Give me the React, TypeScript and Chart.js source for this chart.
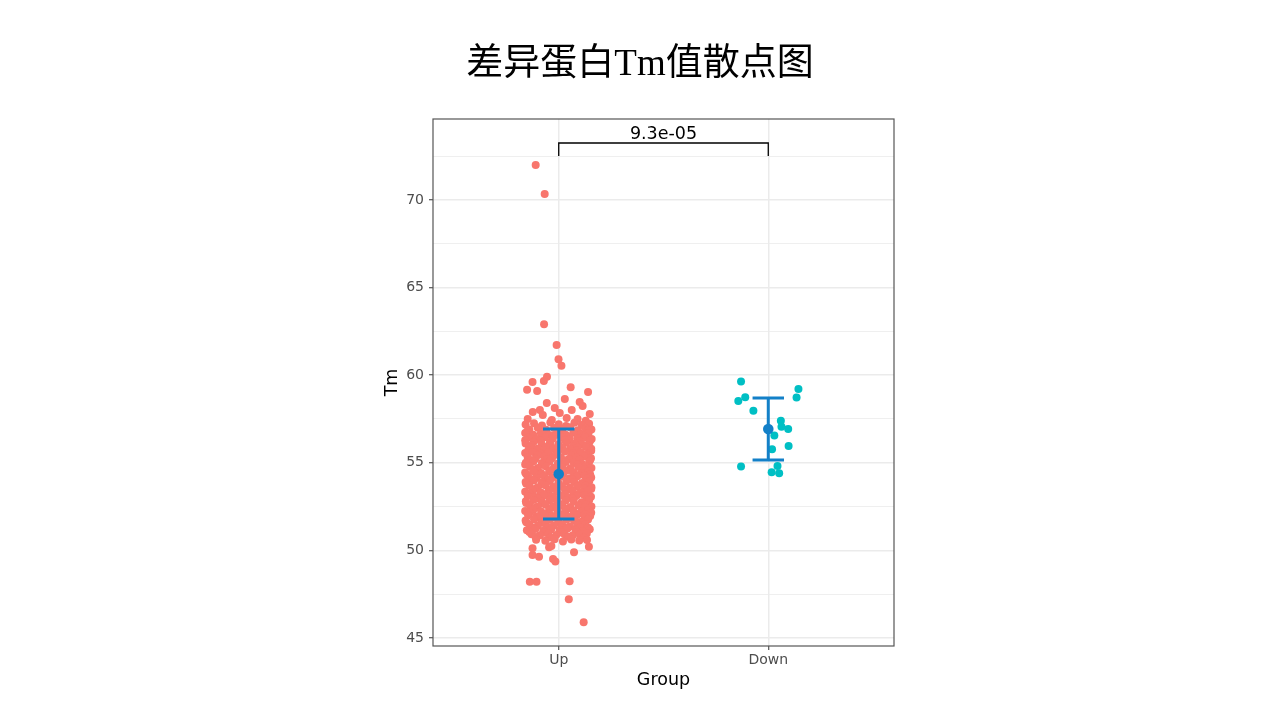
import React, { useEffect, useRef } from "react";
import { Chart, registerables } from "chart.js";

Chart.register(...registerables);

const chartTitle = "差异蛋白Tm值散点图";
const categories = ["Up", "Down"];
const xAxisTitle = "Group";
const yAxisTitle = "Tm";
const yMajorTicks = [45, 50, 55, 60, 65, 70];
const yMinorTicks = [47.5, 52.5, 57.5, 62.5, 67.5, 72.5];
const groupMeans = [54.36, 56.93];
const groupSds = [2.57, 1.77];
const pValueLabel = "9.3e-05";

// [jitter offset from category centre, Tm]
const upPoints: [number, number][] = [
  [-0.11, 72.0], [-0.067, 70.34], [-0.07, 62.91], [-0.01, 61.72], [-0.001, 60.91], [0.013, 60.53],
  [-0.056, 59.91], [-0.071, 59.67], [-0.125, 59.61], [-0.151, 59.16], [-0.103, 59.1], [0.057, 59.31], [0.14, 59.04],
  [0.029, 58.64], [-0.057, 58.41], [-0.019, 58.13], [0.1, 58.47], [0.114, 58.24], [0.062, 58.01], [-0.09, 58.01],
  [-0.076, 57.73], [-0.148, 57.5], [0.09, 57.5], [0.005, 57.84], [0.148, 57.78], [-0.124, 57.9], [-0.033, 57.44],
  [0.038, 57.56], [0.129, 57.39],
  [-0.158, 57.18], [-0.118, 57.25], [-0.08, 57.12], [-0.04, 57.3], [0.0, 57.2], [0.035, 57.1], [0.075, 57.28], [0.11, 57.15], [0.145, 57.22],
  [-0.14, 56.9], [-0.1, 57.0], [-0.06, 56.88], [-0.022, 56.98], [0.018, 56.92], [0.055, 57.02], [0.092, 56.86], [0.128, 56.96], [0.156, 56.9],
  [-0.15, 56.8], [-0.065, 56.82], [0.0, 56.78], [0.09, 56.8], [0.14, 56.84],
  [-0.16, 56.7], [-0.122, 56.6], [-0.085, 56.68], [-0.045, 56.58], [-0.004, 56.66], [0.033, 56.6], [0.07, 56.72], [0.108, 56.62], [0.142, 56.68],
  [-0.12, 56.52], [-0.025, 56.55], [0.05, 56.5], [0.12, 56.54],
  [-0.146, 56.42], [-0.106, 56.35], [-0.066, 56.45], [-0.028, 56.38], [0.012, 56.44], [0.05, 56.33], [0.088, 56.4], [0.125, 56.46], [0.157, 56.36],
  [-0.16, 56.28], [-0.085, 56.25], [0.03, 56.3], [0.1, 56.24], [0.15, 56.27],
  [-0.158, 56.1], [-0.12, 56.18], [-0.082, 56.08], [-0.042, 56.16], [-0.002, 56.06], [0.036, 56.14], [0.074, 56.1], [0.112, 56.04], [0.146, 56.15],
  [-0.13, 55.98], [-0.04, 56.0], [0.07, 55.96], [0.135, 56.0],
  [-0.14, 55.88], [-0.1, 55.8], [-0.062, 55.9], [-0.024, 55.82], [0.016, 55.88], [0.054, 55.78], [0.09, 55.86], [0.13, 55.9], [0.155, 55.8],
  [-0.145, 55.72], [-0.07, 55.7], [0.0, 55.74], [0.085, 55.7], [0.155, 55.68],
  [-0.16, 55.55], [-0.124, 55.62], [-0.086, 55.52], [-0.048, 55.6], [-0.008, 55.56], [0.03, 55.64], [0.068, 55.54], [0.106, 55.6], [0.14, 55.52],
  [-0.1, 55.44], [-0.015, 55.46], [0.06, 55.42], [0.13, 55.45],
  [-0.148, 55.3], [-0.11, 55.24], [-0.07, 55.34], [-0.032, 55.26], [0.01, 55.32], [0.048, 55.22], [0.084, 55.3], [0.122, 55.36], [0.154, 55.26],
  [-0.135, 55.16], [-0.055, 55.18], [0.025, 55.14], [0.1, 55.17], [0.15, 55.15],
  [-0.157, 55.0], [-0.12, 55.08], [-0.08, 54.98], [-0.044, 55.06], [-0.004, 54.96], [0.034, 55.04], [0.072, 55.0], [0.11, 54.94], [0.145, 55.06],
  [-0.16, 54.9], [-0.08, 54.88], [0.0, 54.86], [0.09, 54.9],
  [-0.138, 54.78], [-0.1, 54.7], [-0.062, 54.8], [-0.022, 54.72], [0.018, 54.76], [0.056, 54.68], [0.094, 54.76], [0.13, 54.8], [0.156, 54.7],
  [-0.12, 54.62], [-0.03, 54.6], [0.05, 54.58], [0.125, 54.62],
  [-0.16, 54.45], [-0.122, 54.52], [-0.084, 54.42], [-0.046, 54.5], [-0.006, 54.44], [0.032, 54.54], [0.07, 54.46], [0.108, 54.4], [0.142, 54.5],
  [-0.155, 54.34], [-0.09, 54.32], [0.02, 54.35], [0.095, 54.3], [0.15, 54.33],
  [-0.146, 54.2], [-0.108, 54.14], [-0.068, 54.24], [-0.03, 54.16], [0.012, 54.22], [0.05, 54.12], [0.086, 54.2], [0.124, 54.26], [0.155, 54.16],
  [-0.13, 54.06], [-0.05, 54.04], [0.065, 54.05], [0.135, 54.08],
  [-0.158, 53.9], [-0.118, 53.98], [-0.08, 53.88], [-0.042, 53.96], [-0.002, 53.86], [0.036, 53.94], [0.074, 53.9], [0.112, 53.84], [0.146, 53.96],
  [-0.155, 53.8], [-0.08, 53.78], [0.0, 53.76], [0.11, 53.8],
  [-0.14, 53.68], [-0.1, 53.6], [-0.062, 53.7], [-0.024, 53.62], [0.016, 53.66], [0.054, 53.58], [0.09, 53.66], [0.128, 53.7], [0.156, 53.6],
  [-0.115, 53.5], [-0.03, 53.52], [0.045, 53.48], [0.125, 53.52], [0.155, 53.5],
  [-0.16, 53.35], [-0.124, 53.42], [-0.086, 53.32], [-0.048, 53.4], [-0.008, 53.34], [0.03, 53.44], [0.068, 53.36], [0.106, 53.3], [0.14, 53.4],
  [-0.14, 53.24], [-0.06, 53.22], [0.03, 53.2], [0.1, 53.24],
  [-0.148, 53.1], [-0.11, 53.04], [-0.07, 53.14], [-0.032, 53.06], [0.01, 53.12], [0.048, 53.02], [0.084, 53.1], [0.122, 53.16], [0.154, 53.06],
  [-0.1, 52.96], [-0.02, 52.94], [0.065, 52.96], [0.135, 52.92],
  [-0.157, 52.8], [-0.12, 52.88], [-0.08, 52.78], [-0.044, 52.86], [-0.004, 52.76], [0.034, 52.84], [0.072, 52.8], [0.11, 52.74], [0.145, 52.86],
  [-0.155, 52.7], [-0.08, 52.68], [0.0, 52.66], [0.11, 52.7],
  [-0.138, 52.58], [-0.1, 52.5], [-0.062, 52.6], [-0.022, 52.52], [0.018, 52.56], [0.056, 52.48], [0.094, 52.56], [0.13, 52.6], [0.156, 52.5],
  [-0.115, 52.42], [-0.03, 52.44], [0.05, 52.4], [0.125, 52.44],
  [-0.16, 52.25], [-0.122, 52.32], [-0.084, 52.22], [-0.046, 52.3], [-0.006, 52.24], [0.032, 52.34], [0.07, 52.26], [0.108, 52.2], [0.142, 52.3],
  [-0.14, 52.14], [-0.05, 52.12], [0.03, 52.16], [0.1, 52.1], [0.155, 52.14],
  [-0.146, 52.0], [-0.108, 51.94], [-0.068, 52.04], [-0.03, 51.96], [0.012, 52.02], [0.05, 51.92], [0.086, 52.0], [0.124, 52.06], [0.15, 51.96],
  [-0.1, 51.86], [-0.015, 51.88], [0.06, 51.84], [0.125, 51.88],
  [-0.158, 51.7], [-0.118, 51.78], [-0.08, 51.68], [-0.042, 51.76], [-0.002, 51.66], [0.036, 51.74], [0.074, 51.7], [0.112, 51.64], [0.14, 51.76],
  [-0.155, 51.6], [-0.08, 51.58], [0.0, 51.56], [0.105, 51.6],
  [-0.14, 51.48], [-0.1, 51.4], [-0.062, 51.5], [-0.024, 51.42], [0.016, 51.46], [0.054, 51.38], [0.09, 51.46], [0.126, 51.5],
  [-0.125, 51.3], [-0.05, 51.32], [0.035, 51.28], [0.1, 51.32], [0.14, 51.3],
  [-0.152, 51.15], [-0.112, 51.22], [-0.074, 51.12], [-0.036, 51.2], [0.004, 51.14], [0.042, 51.24], [0.08, 51.16], [0.118, 51.1], [0.148, 51.2],
  [-0.14, 51.04], [-0.07, 51.0], [0.01, 51.02], [0.085, 51.04],
  [-0.13, 50.92], [-0.09, 50.86], [-0.05, 50.95], [-0.012, 50.88], [0.028, 50.92], [0.066, 50.84], [0.1, 50.9], [0.134, 50.96],
  [-0.11, 50.76], [-0.04, 50.74], [0.045, 50.78], [0.12, 50.72],
  [-0.108, 50.6], [-0.064, 50.55], [-0.02, 50.64], [0.02, 50.5], [0.06, 50.62], [0.098, 50.56],
  [-0.125, 50.12], [-0.125, 49.74], [-0.094, 49.64], [-0.046, 50.18], [-0.035, 50.25], [-0.027, 49.51], [-0.016, 49.36],
  [0.073, 49.89], [0.144, 50.21], [0.135, 50.59], [-0.138, 48.21], [-0.106, 48.21], [0.052, 48.24], [0.048, 47.21], [0.119, 45.9],
];

const downPoints: [number, number][] = [
  [-0.13, 59.63], [-0.11, 58.74], [-0.143, 58.53], [-0.071, 57.97], [0.144, 59.21], [0.135, 58.73],
  [0.06, 57.39], [0.063, 57.06], [0.095, 56.93], [0.029, 56.55], [0.018, 55.77], [0.097, 55.96],
  [-0.13, 54.78], [0.044, 54.82], [0.016, 54.46], [0.052, 54.4],
];

const UP_COLOR = "#F8766D";
const DOWN_COLOR = "#00BFC4";
const BAR_COLOR = "#1380C8";
const FONT = "'DejaVu Sans', Verdana, sans-serif";

const isMajor = (v: number) => yMajorTicks.includes(v);

const overlayPlugin = {
  id: "overlay",
  afterDatasetsDraw(chart: any) {
    const { ctx, chartArea, scales } = chart;
    const x = scales.x;
    const y = scales.y;
    ctx.save();
    // mean ± sd
    groupMeans.forEach((m: number, i: number) => {
      const cx = x.getPixelForValue(i + 1);
      const hw = x.getPixelForValue(i + 1 + 0.075) - cx;
      const top = y.getPixelForValue(m + groupSds[i]);
      const bot = y.getPixelForValue(m - groupSds[i]);
      ctx.strokeStyle = BAR_COLOR;
      ctx.lineWidth = 3;
      ctx.lineCap = "butt";
      ctx.beginPath();
      ctx.moveTo(cx, top);
      ctx.lineTo(cx, bot);
      ctx.moveTo(cx - hw, top);
      ctx.lineTo(cx + hw, top);
      ctx.moveTo(cx - hw, bot);
      ctx.lineTo(cx + hw, bot);
      ctx.stroke();
      ctx.fillStyle = BAR_COLOR;
      ctx.beginPath();
      ctx.arc(cx, y.getPixelForValue(m), 5.3, 0, Math.PI * 2);
      ctx.fill();
    });
    // significance bracket
    const x1 = x.getPixelForValue(1);
    const x2 = x.getPixelForValue(2);
    const yb = y.getPixelForValue(73.25);
    const yt = y.getPixelForValue(72.51);
    ctx.strokeStyle = "#000";
    ctx.lineWidth = 1.3;
    ctx.beginPath();
    ctx.moveTo(x1, yt);
    ctx.lineTo(x1, yb);
    ctx.lineTo(x2, yb);
    ctx.lineTo(x2, yt);
    ctx.stroke();
    ctx.fillStyle = "#000";
    ctx.font = `17.5px ${FONT}`;
    ctx.textAlign = "center";
    ctx.textBaseline = "alphabetic";
    ctx.fillText(pValueLabel, (x1 + x2) / 2, yb - 4);
    // panel border
    ctx.strokeStyle = "#555";
    ctx.lineWidth = 1.2;
    ctx.strokeRect(chartArea.left, chartArea.top, chartArea.right - chartArea.left, chartArea.bottom - chartArea.top);
    ctx.restore();
  },
  afterDraw(chart: any) {
    const { ctx, width } = chart;
    ctx.save();
    ctx.fillStyle = "#000";
    ctx.font = "37px 'Liberation Serif', 'Noto Sans CJK SC', serif";
    ctx.textAlign = "center";
    ctx.textBaseline = "middle";
    ctx.fillText(chartTitle, width / 2, 65);
    ctx.restore();
  },
};

export default function App() {
  const canvasRef = useRef<HTMLCanvasElement | null>(null);

  useEffect(() => {
    if (!canvasRef.current) return;
    const chart = new Chart(canvasRef.current, {
      type: "scatter",
      data: {
        datasets: [
          {
            label: categories[0],
            data: upPoints.map(([dx, v]) => ({ x: 1 + dx, y: v })),
            backgroundColor: UP_COLOR,
            borderWidth: 0,
            pointRadius: 4,
            pointHoverRadius: 4,
          },
          {
            label: categories[1],
            data: downPoints.map(([dx, v]) => ({ x: 2 + dx, y: v })),
            backgroundColor: DOWN_COLOR,
            borderWidth: 0,
            pointRadius: 4,
            pointHoverRadius: 4,
          },
        ],
      },
      options: {
        responsive: false,
        animation: false,
        events: [],
        layout: { padding: { left: 378, right: 386, top: 119, bottom: 25.5 } },
        plugins: {
          legend: { display: false },
          title: { display: false },
          tooltip: { enabled: false },
        },
        scales: {
          x: {
            type: "linear",
            min: 0.4,
            max: 2.6,
            afterBuildTicks: (scale: any) => {
              scale.ticks = categories.map((_, i) => ({ value: i + 1 }));
            },
            afterFit: (scale: any) => {
              scale.height = 48.5;
            },
            ticks: {
              autoSkip: false,
              maxRotation: 0,
              padding: 2,
              color: "#4D4D4D",
              font: { family: FONT, size: 14 },
              callback: (value: any) => categories[Math.round(Number(value)) - 1] ?? "",
            },
            grid: {
              color: "#EBEBEB",
              lineWidth: 1.5,
              tickLength: 4,
              tickColor: "#333333",
              tickWidth: 1,
            },
            border: { display: false },
            title: {
              display: true,
              text: xAxisTitle,
              color: "#000",
              font: { family: FONT, size: 17.5 },
              padding: { top: 4, bottom: 4 },
            },
          },
          y: {
            type: "linear",
            min: 44.54,
            max: 74.62,
            afterBuildTicks: (scale: any) => {
              scale.ticks = [...yMajorTicks, ...yMinorTicks].sort((a, b) => a - b).map((v) => ({ value: v }));
            },
            afterFit: (scale: any) => {
              scale.width = 55;
            },
            ticks: {
              autoSkip: false,
              padding: 5,
              color: "#4D4D4D",
              font: { family: FONT, size: 14 },
              callback: (value: any) => (isMajor(Number(value)) ? String(value) : ""),
            },
            grid: {
              color: "#EBEBEB",
              lineWidth: (ctx: any) => (isMajor(ctx.tick?.value) ? 1.5 : 0.8),
              tickLength: 4,
              tickColor: (ctx: any) => (isMajor(ctx.tick?.value) ? "#333333" : "rgba(0,0,0,0)"),
              tickWidth: 1,
            },
            border: { display: false },
            title: {
              display: true,
              text: yAxisTitle,
              color: "#000",
              font: { family: FONT, size: 17.5 },
              padding: { top: 4, bottom: 4 },
            },
          },
        },
      },
      plugins: [overlayPlugin],
    } as any);
    return () => chart.destroy();
  }, []);

  return (
    <div style={{ position: "absolute", left: 0, top: 0, width: 1280, height: 720, background: "#fff" }}>
      <canvas ref={canvasRef} width={1280} height={720} style={{ width: 1280, height: 720, display: "block" }} />
    </div>
  );
}
